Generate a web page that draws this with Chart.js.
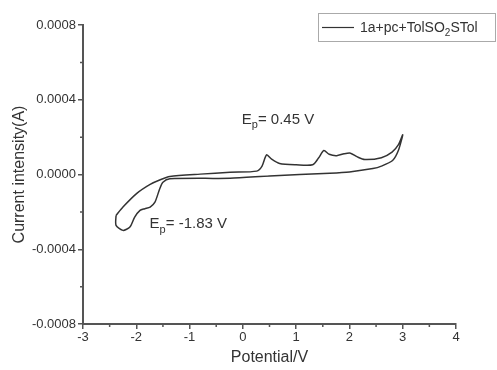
<!DOCTYPE html>
<html>
<head>
<meta charset="utf-8">
<script src="https://cdn.jsdelivr.net/npm/chart.js@4.4.1/dist/chart.umd.min.js"></script>
<style>
  html, body { margin: 0; padding: 0; background: #fff; }
  #wrap { width: 497px; height: 370px; }
</style>
</head>
<body>
<div id="wrap"><canvas id="cv" width="497" height="370"></canvas></div>
<script>
// cyclic voltammogram
// anodic scan (-2.38 V -> 3.0 V) then cathodic scan back
var potential = [
  -2.38, -2.25, -1.99, -1.74, -1.55, -1.37, -0.8, -0.24, 0.26, 0.36,
  0.445, 0.54, 0.69, 1.0, 1.31, 1.42, 1.52, 1.62, 1.76, 1.9,
  2.02, 2.15, 2.29, 2.6, 2.8, 2.92, 3.0,
  2.92, 2.81, 2.6, 2.44, 2.0, 1.63, 0.5, -0.24, -1.37,
  -1.5, -1.56, -1.65, -1.74, -1.84, -1.93, -2.03, -2.12, -2.25, -2.38, -2.38
];
var current = [
  -0.000219, -0.000174, -0.000101, -0.000053, -0.000028, -0.000011, 0.000002, 0.000012, 0.000018, 0.000045,
  0.000105, 0.000082, 0.000059, 0.000052, 0.000052, 0.000088, 0.000128, 0.000108, 0.000101, 0.000111,
  0.000114, 0.000094, 0.000080, 0.000090, 0.000120, 0.000160, 0.000213,
  0.000130, 0.000075, 0.000045, 0.000032, 0.000014, 0.000007, -0.000008, -0.000020, -0.000023,
  -0.000041, -0.000076, -0.000148, -0.000174, -0.000183, -0.000192, -0.000228, -0.000281, -0.000299, -0.000272, -0.000219
];
var xTicks = [-3, -2, -1, 0, 1, 2, 3, 4];
var yTicks = [-0.0008, -0.0004, 0, 0.0004, 0.0008];
var seriesName = [["1a+pc+TolSO", false], ["2", true], ["STol", false]];
var peakLabels = [
  { x: -0.02, y: 0.000272, parts: [["E", false], ["p", true], ["= 0.45 V", false]] },
  { x: -1.75, y: -0.000288, parts: [["E", false], ["p", true], ["= -1.83 V", false]] }
];

var FONT = "'Liberation Sans', Arial, sans-serif";
var INK = "#333";

var points = potential.map(function (p, i) {
  return { x: p, y: current[i] };
});

// writes text runs, subscripts smaller and lower
function drawRuns(ctx, runs, x, y, size) {
  runs.forEach(function (r) {
    var s = r[1] ? Math.round(size * 0.7) : size;
    ctx.font = s + "px " + FONT;
    ctx.fillText(r[0], x, r[1] ? y + size * 0.3 : y);
    x += ctx.measureText(r[0]).width;
  });
  return x;
}

var extras = {
  id: "extras",
  afterDraw: function (chart) {
    var ctx = chart.ctx;
    var xs = chart.scales.x, ys = chart.scales.y;
    ctx.save();
    ctx.strokeStyle = "#555";
    ctx.lineWidth = 1.5;
    // minor ticks halfway between majors
    ctx.beginPath();
    for (var i = 0; i < xTicks.length - 1; i++) {
      var px = xs.getPixelForValue((xTicks[i] + xTicks[i + 1]) / 2);
      ctx.moveTo(px, ys.bottom);
      ctx.lineTo(px, ys.bottom + 3);
    }
    for (var j = 0; j < yTicks.length - 1; j++) {
      var py = ys.getPixelForValue((yTicks[j] + yTicks[j + 1]) / 2);
      ctx.moveTo(xs.left, py);
      ctx.lineTo(xs.left - 3, py);
    }
    ctx.stroke();

    // peak labels
    ctx.fillStyle = INK;
    ctx.textBaseline = "alphabetic";
    ctx.textAlign = "left";
    peakLabels.forEach(function (lb) {
      drawRuns(ctx, lb.parts, xs.getPixelForValue(lb.x), ys.getPixelForValue(lb.y), 15);
    });

    // legend box
    ctx.strokeStyle = "#aaa";
    ctx.lineWidth = 1;
    ctx.strokeRect(318.5, 13.5, 177, 28);
    ctx.strokeStyle = INK;
    ctx.lineWidth = 1.2;
    ctx.beginPath();
    ctx.moveTo(322, 27.5);
    ctx.lineTo(354, 27.5);
    ctx.stroke();
    drawRuns(ctx, seriesName, 360, 32, 14);
    ctx.restore();
  }
};

new Chart(document.getElementById("cv"), {
  type: "scatter",
  data: {
    datasets: [{
      label: "1a+pc+TolSO2STol",
      data: points,
      showLine: true,
      borderColor: INK,
      borderWidth: 1.5,
      pointRadius: 0,
      tension: 0.25
    }]
  },
  options: {
    responsive: false,
    animation: false,
    layout: { padding: { top: 25, right: 41, left: 0, bottom: 0 } },
    plugins: { legend: { display: false }, tooltip: { enabled: false } },
    scales: {
      x: {
        type: "linear",
        min: -3,
        max: 4,
        afterFit: function (s) { s.height = 46; },
        afterBuildTicks: function (s) {
          s.ticks = xTicks.map(function (v) { return { value: v }; });
        },
        ticks: {
          color: INK,
          padding: 1,
          font: { family: FONT, size: 13 },
          callback: function (v) { return String(v); }
        },
        grid: { drawOnChartArea: false, tickLength: 5, color: "#555", lineWidth: 1.5 },
        border: { color: "#555", width: 2 },
        title: {
          display: true,
          text: "Potential/V",
          color: INK,
          font: { family: FONT, size: 16 },
          padding: { top: 0, bottom: 3 }
        }
      },
      y: {
        type: "linear",
        min: -0.0008,
        max: 0.0008,
        afterFit: function (s) { s.width = 83; },
        afterBuildTicks: function (s) {
          s.ticks = yTicks.map(function (v) { return { value: v }; });
        },
        ticks: {
          color: INK,
          padding: 2,
          font: { family: FONT, size: 13 },
          callback: function (v) { return Number(v).toFixed(4); }
        },
        grid: { drawOnChartArea: false, tickLength: 5, color: "#555", lineWidth: 1.5 },
        border: { color: "#555", width: 2 },
        title: {
          display: true,
          text: "Current intensity(A)",
          color: INK,
          font: { family: FONT, size: 16 },
          padding: { top: 10, bottom: 0 }
        }
      }
    }
  },
  plugins: [extras]
});
</script>
</body>
</html>
